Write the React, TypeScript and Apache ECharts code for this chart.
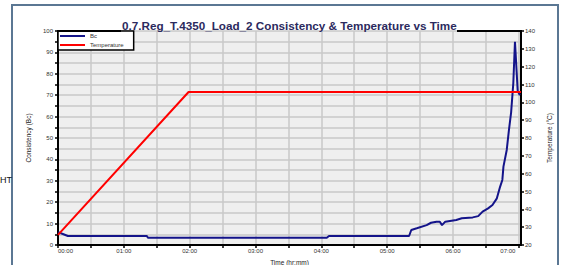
import React, { useEffect, useRef } from "react";
import * as echarts from "echarts";

const TITLE = "0.7.Reg_T.4350_Load_2 Consistency & Temperature vs Time";
const SERIES_NAMES = ["Bc", "Temperature"];
// time in minutes
const bcTime = [0, 5, 9, 81, 82, 245, 247, 320, 322, 327, 336, 340, 345, 348, 350, 353, 363, 368, 378, 383, 387, 392, 396, 400, 403, 405, 406, 409, 411, 413, 415, 416.5, 419, 421];
const bcValue = [6, 5, 4.2, 4.2, 3.4, 3.4, 4.2, 4.2, 7, 7.8, 9.3, 10.4, 10.9, 10.9, 9.3, 10.9, 11.7, 12.5, 12.9, 13.5, 15.6, 17.1, 18.7, 21.8, 27.3, 30.4, 36.6, 44.4, 53.7, 62, 75.7, 95, 72, 70];
const tempTime = [0, 119, 422];
const tempValue = [25.7, 105.8, 105.8];
const X_MAX = 422;
const LEFT_AXIS = { min: 0, max: 100, interval: 5, labelStep: 10, name: "Consistency (Bc)" };
const RIGHT_AXIS = { min: 20, max: 140, interval: 10, name: "Temperature (°C)" };
const X_AXIS = { interval: 30, labelStep: 60, name: "Time (hr:mm)" };

const fmtTime = (m: number) => {
  const h = Math.floor(m / 60);
  const mm = Math.round(m % 60);
  return String(h).padStart(2, "0") + ":" + String(mm).padStart(2, "0");
};

export default function App() {
  const ref = useRef<HTMLDivElement>(null);
  useEffect(() => {
    if (!ref.current) return;
    const chart = echarts.init(ref.current, null, { renderer: "svg" });
    const font = "Liberation Sans, Arial, sans-serif";
    chart.setOption({
      animation: false,
      textStyle: { fontFamily: font },
      legend: {
        orient: "vertical",
        left: 58,
        top: 31,
        itemWidth: 25,
        itemHeight: 2,
        itemGap: 3,
        icon: "rect",
        padding: [2, 10, 2, 2],
        backgroundColor: "#fff",
        borderColor: "#000",
        borderWidth: 1.5,
        textStyle: { fontSize: 6, color: "#333" },
        data: SERIES_NAMES,
      },
      grid: {
        left: 58,
        right: 48,
        top: 31,
        bottom: 20,
        show: true,
        backgroundColor: "#efefef",
        borderWidth: 0,
        containLabel: false,
        outerBoundsMode: "none",
      },
      xAxis: {
        type: "value",
        min: 0,
        max: X_MAX,
        interval: X_AXIS.interval,
        name: X_AXIS.name,
        nameLocation: "middle",
        nameGap: 12,
        nameTextStyle: { fontSize: 6.5, color: "#222" },
        axisLine: { lineStyle: { color: "#000", width: 2 } },
        axisTick: { lineStyle: { color: "#000", width: 1.5 }, length: 3 },
        axisLabel: {
          fontSize: 6,
          color: "#333",
          margin: 3,
          alignMinLabel: "left",
          formatter: (v: number) => {
            if (v % X_AXIS.labelStep !== 0) return "";
            if (v === 420) return "{r|" + fmtTime(v) + "}";
            return fmtTime(v);
          },
          rich: { r: { fontSize: 6, color: "#333", padding: [0, 22, 0, 0] } },
          showMaxLabel: false,
        },
        splitLine: { show: true, lineStyle: { color: "#c8c8c8", width: 1.5 } },
      },
      yAxis: [
        {
          type: "value",
          min: LEFT_AXIS.min,
          max: LEFT_AXIS.max,
          interval: LEFT_AXIS.interval,
          name: LEFT_AXIS.name,
          nameLocation: "middle",
          nameGap: 17,
          nameTextStyle: { fontSize: 6.5, color: "#222" },
          axisLine: { show: true, lineStyle: { color: "#000", width: 2 } },
          axisTick: { show: true, lineStyle: { color: "#000", width: 1.5 }, length: 3 },
          axisLabel: {
            fontSize: 6,
            color: "#333",
            margin: 5,
            formatter: (v: number) => (v % LEFT_AXIS.labelStep === 0 ? String(v) : ""),
          },
          splitLine: { show: true, lineStyle: { color: "#c8c8c8", width: 1.5 } },
        },
        {
          type: "value",
          position: "right",
          min: RIGHT_AXIS.min,
          max: RIGHT_AXIS.max,
          interval: RIGHT_AXIS.interval,
          name: RIGHT_AXIS.name,
          nameLocation: "middle",
          nameGap: 16,
          nameTextStyle: { fontSize: 6.5, color: "#222" },
          axisLine: { show: true, lineStyle: { color: "#000", width: 2 } },
          axisTick: { show: true, lineStyle: { color: "#000", width: 1.5 }, length: 3 },
          axisLabel: { fontSize: 6, color: "#333", margin: 4 },
          splitLine: { show: false },
        },
      ],
      series: [
        {
          name: SERIES_NAMES[0],
          type: "line",
          yAxisIndex: 0,
          showSymbol: false,
          symbol: "none",
          lineStyle: { color: "#14148a", width: 2 },
          itemStyle: { color: "#14148a" },
          data: bcTime.map((t, i) => [t, bcValue[i]]),
          z: 3,
        },
        {
          name: SERIES_NAMES[1],
          type: "line",
          yAxisIndex: 1,
          showSymbol: false,
          symbol: "none",
          lineStyle: { color: "#ff0000", width: 2 },
          itemStyle: { color: "#ff0000" },
          data: tempTime.map((t, i) => [t, tempValue[i]]),
          z: 4,
        },
      ],
      graphic: [
        {
          type: "rect",
          shape: { x: 12, y: 5, width: 546, height: 272 },
          style: { fill: "none", stroke: "#5b7793", lineWidth: 2 },
          z: -1,
          silent: true,
        },
        {
          type: "line",
          shape: { x1: 57, y1: 31, x2: 121, y2: 31 },
          style: { stroke: "#000", lineWidth: 2 },
          z: 10,
        },
        {
          type: "line",
          shape: { x1: 457, y1: 31, x2: 522, y2: 31 },
          style: { stroke: "#000", lineWidth: 2 },
          z: 10,
        },
        {
          type: "text",
          x: 122,
          y: 31,
          style: {
            text: TITLE,
            fontSize: 11.7,
            fontWeight: "bold",
            fontFamily: font,
            fill: "#2c2a5e",
            verticalAlign: "bottom",
          },
          z: 10,
        },
        {
          type: "text",
          x: 0,
          y: 180,
          style: { text: "HT", fontSize: 9, fontFamily: font, fill: "#111", verticalAlign: "middle" },
          z: 10,
        },
      ],
    });
    return () => chart.dispose();
  }, []);
  return (
    <div
      ref={ref}
      style={{ position: "absolute", left: 0, top: 0, width: 569, height: 265 }}
    />
  );
}
